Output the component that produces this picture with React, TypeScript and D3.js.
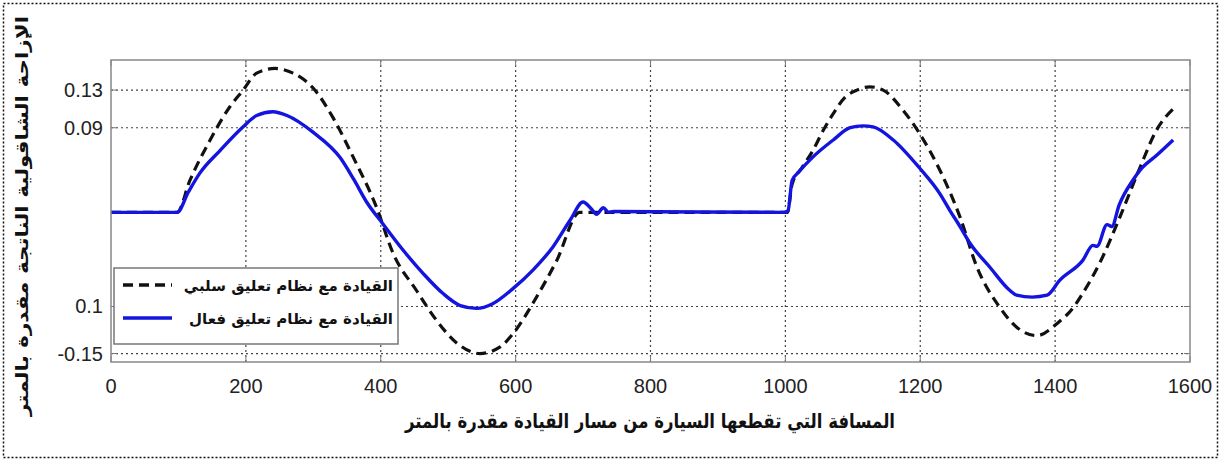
import React, { useRef, useEffect } from 'react';
import * as d3 from 'd3';

// passive suspension (dashed black)
const passiveX = [0, 98, 117, 147, 176, 196, 216, 243, 270, 300, 329, 359, 394, 418, 453, 483, 513, 547, 577, 596, 631, 661, 695, 1000,
  1003, 1010, 1025, 1041, 1056, 1071, 1088, 1106, 1125, 1145, 1174, 1198, 1229, 1259, 1284, 1318, 1343, 1373, 1403, 1427, 1441, 1466, 1496, 1526, 1550, 1578];
const passiveY = [0, 0, 0.034, 0.077, 0.112, 0.13, 0.148, 0.153, 0.148, 0.132, 0.101, 0.059, 0.005, -0.043, -0.083, -0.115, -0.139, -0.15, -0.143, -0.129, -0.09, -0.051, 0, 0,
  0, 0.03, 0.048, 0.066, 0.087, 0.105, 0.122, 0.13, 0.1335, 0.13, 0.109, 0.085, 0.045, -0.005, -0.058, -0.101, -0.122, -0.131, -0.118, -0.101, -0.086, -0.054, -0.005, 0.048, 0.087, 0.112];

// active suspension (solid blue)
const activeX = [0, 40, 98, 115, 132, 162, 196, 216, 240, 261, 300, 340, 360, 380, 403, 433, 463, 492, 518, 542, 566, 596, 626, 655, 681, 700, 712, 720, 730, 738, 745, 1000,
  1004, 1010, 1020, 1041, 1071, 1096, 1115, 1130, 1160, 1198, 1229, 1244, 1259, 1274, 1303, 1333, 1343, 1366, 1388, 1407, 1441, 1456, 1462, 1477, 1484, 1495, 1516, 1526, 1551, 1575];
const activeY = [0, 0, 0, 0.022, 0.042, 0.066, 0.091, 0.103, 0.107, 0.103, 0.085, 0.058, 0.035, 0.01, -0.012, -0.04, -0.065, -0.086, -0.099, -0.102, -0.097, -0.081, -0.061, -0.037, -0.008, 0.011, 0.004, -0.002, 0.005, 0, 0.001, 0,
  0.002, 0.034, 0.043, 0.059, 0.077, 0.09, 0.092, 0.091, 0.077, 0.048, 0.02, 0.002, -0.015, -0.033, -0.058, -0.083, -0.088, -0.09, -0.088, -0.072, -0.051, -0.035, -0.036, -0.013, -0.015, 0.008, 0.035, 0.045, 0.061, 0.077];

const xTicks = [0, 200, 400, 600, 800, 1000, 1200, 1400, 1600];
const yTicks = [0.13, 0.09, -0.1, -0.15];
const yTickLabels = ['0.13', '0.09', '0.1', '-0.15'];

const xTitle = 'المسافة التي تقطعها السيارة من مسار القيادة مقدرة بالمتر';
const yTitle = 'الإزاحة الشاقولية الناتجة مقدرة بالمتر';
const legendNames = ['القيادة مع نظام تعليق سلبي', 'القيادة مع نظام تعليق فعال'];

const W = 1221;
const H = 461;

const App: React.FC = () => {
  const svgRef = useRef<SVGSVGElement>(null);

  useEffect(() => {
    if (!svgRef.current) return;
    const svg = d3.select(svgRef.current);
    svg.selectAll('*').remove();

    const left = 111, right = 1190, top = 60, bottom = 362;

    const xScale = d3.scaleLinear().domain([0, 1600]).range([left, right]);
    const yScale = d3.scaleLinear().domain([-0.159, 0.162]).range([bottom, top]);

    // outer dotted frame
    svg.append('rect')
      .attr('x', 3.5).attr('y', 3.5)
      .attr('width', W - 7).attr('height', H - 7)
      .style('fill', 'white')
      .style('stroke', '#111')
      .style('stroke-width', 1.5)
      .style('stroke-dasharray', '2,2');

    // grid
    const grid = svg.append('g');
    xTicks.slice(1, -1).forEach(t => {
      grid.append('line')
        .attr('x1', xScale(t)).attr('x2', xScale(t))
        .attr('y1', top).attr('y2', bottom)
        .style('stroke', '#444')
        .style('stroke-width', 1.2)
        .style('stroke-dasharray', '2,3');
    });
    yTicks.forEach(t => {
      grid.append('line')
        .attr('x1', left).attr('x2', right)
        .attr('y1', yScale(t)).attr('y2', yScale(t))
        .style('stroke', '#444')
        .style('stroke-width', 1.2)
        .style('stroke-dasharray', '2,3');
    });

    // tick marks on all four sides
    const ticks = svg.append('g').style('stroke', '#777').style('stroke-width', 1);
    xTicks.forEach(t => {
      ticks.append('line').attr('x1', xScale(t)).attr('x2', xScale(t)).attr('y1', bottom).attr('y2', bottom - 6);
      ticks.append('line').attr('x1', xScale(t)).attr('x2', xScale(t)).attr('y1', top).attr('y2', top + 6);
    });
    yTicks.forEach(t => {
      ticks.append('line').attr('x1', left).attr('x2', left + 6).attr('y1', yScale(t)).attr('y2', yScale(t));
      ticks.append('line').attr('x1', right).attr('x2', right - 6).attr('y1', yScale(t)).attr('y2', yScale(t));
    });

    // lines
    const line = d3.line<[number, number]>()
      .x(d => xScale(d[0]))
      .y(d => yScale(d[1]))
      .curve(d3.curveMonotoneX);

    const passiveData = passiveX.map((x, i) => [x, passiveY[i]] as [number, number]);
    const activeData = activeX.map((x, i) => [x, activeY[i]] as [number, number]);

    svg.append('path')
      .attr('d', line(passiveData))
      .style('fill', 'none')
      .style('stroke', '#111')
      .style('stroke-width', 3.2)
      .style('stroke-dasharray', '10,6');

    svg.append('path')
      .attr('d', line(activeData))
      .style('fill', 'none')
      .style('stroke', '#1414e0')
      .style('stroke-width', 3.4);

    // axes box
    svg.append('rect')
      .attr('x', left).attr('y', top)
      .attr('width', right - left).attr('height', bottom - top)
      .style('fill', 'none')
      .style('stroke', '#888')
      .style('stroke-width', 1.5);

    // tick labels
    xTicks.forEach(t => {
      svg.append('text')
        .attr('x', xScale(t))
        .attr('y', 393)
        .attr('text-anchor', 'middle')
        .style('font-family', '"Liberation Sans", Arial, sans-serif')
        .style('font-size', '20px')
        .style('fill', '#222')
        .text(String(t));
    });
    yTicks.forEach((t, i) => {
      svg.append('text')
        .attr('x', 103)
        .attr('y', yScale(t) + 7)
        .attr('text-anchor', 'end')
        .style('font-family', '"Liberation Sans", Arial, sans-serif')
        .style('font-size', '20px')
        .style('fill', '#222')
        .text(yTickLabels[i]);
    });

    // axis titles
    svg.append('text')
      .attr('x', 650)
      .attr('y', 428)
      .attr('text-anchor', 'middle')
      .attr('direction', 'rtl')
      .attr('textLength', 490)
      .attr('lengthAdjust', 'spacingAndGlyphs')
      .style('font-family', '"DejaVu Sans", sans-serif')
      .style('font-weight', 'bold')
      .style('font-size', '20px')
      .style('fill', '#111')
      .text(xTitle);

    svg.append('text')
      .attr('transform', 'translate(28,216) rotate(-90)')
      .attr('text-anchor', 'middle')
      .attr('direction', 'rtl')
      .attr('textLength', 400)
      .attr('lengthAdjust', 'spacingAndGlyphs')
      .style('font-family', '"DejaVu Sans", sans-serif')
      .style('font-weight', 'bold')
      .style('font-size', '17px')
      .style('fill', '#111')
      .text(yTitle);

    // legend
    const lg = svg.append('g');
    lg.append('rect')
      .attr('x', 114).attr('y', 268)
      .attr('width', 284).attr('height', 76)
      .style('fill', 'white')
      .style('stroke', '#777')
      .style('stroke-width', 1.5);
    const legendStyles = [
      { stroke: '#111', dash: '10,6', width: 3.4 },
      { stroke: '#1414e0', dash: 'none', width: 3.6 }
    ];
    legendNames.forEach((name, i) => {
      const cy = 285 + i * 33;
      lg.append('line')
        .attr('x1', 123).attr('x2', 172)
        .attr('y1', cy).attr('y2', cy)
        .style('stroke', legendStyles[i].stroke)
        .style('stroke-width', legendStyles[i].width)
        .style('stroke-dasharray', legendStyles[i].dash);
      lg.append('text')
        .attr('x', 393)
        .attr('y', cy + 6)
        .attr('text-anchor', 'start')
        .attr('direction', 'rtl')
        .style('font-family', '"DejaVu Sans", sans-serif')
        .style('font-weight', 'bold')
        .style('font-size', '15px')
        .style('fill', '#111')
        .text(name);
    });
  }, []);

  return (
    <svg
      ref={svgRef}
      width={W}
      height={H}
      style={{ position: 'absolute', top: 0, left: 0, background: 'white' }}
    />
  );
};

export default App;
